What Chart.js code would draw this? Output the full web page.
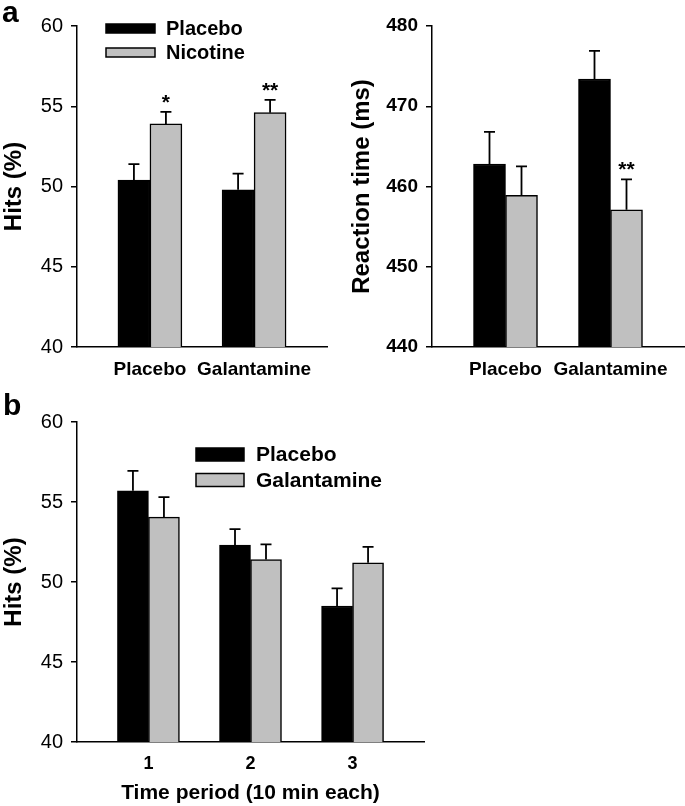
<!DOCTYPE html>
<html>
<head>
<meta charset="utf-8">
<script src="https://cdn.jsdelivr.net/npm/chart.js@4.4.1/dist/chart.umd.min.js"></script>
<style>
  html, body { margin: 0; padding: 0; background: #fff; }
  #wrap { position: relative; width: 685px; height: 806px; overflow: hidden; background: #fff; }
  canvas { position: absolute; }
</style>
</head>
<body>
<div id="wrap">
  <canvas id="cA1" width="340" height="385" style="left:0;top:0;width:340px;height:385px"></canvas>
  <canvas id="cA2" width="345" height="385" style="left:340px;top:0;width:345px;height:385px"></canvas>
  <canvas id="cB" width="685" height="421" style="left:0;top:385px;width:685px;height:421px"></canvas>
</div>
<script>
// ---------- DATA ----------
// Panel a (left): Hits (%)
const hitsCategories = ['Placebo', 'Galantamine'];
const hitsSeries = ['Placebo', 'Nicotine'];
const hitsPlacebo = [50.4, 49.8];
const hitsPlaceboErr = [1.0, 1.0];
const hitsNicotine = [53.9, 54.6];
const hitsNicotineErr = [0.75, 0.8];
const hitsNicotineSig = ['*', '**'];
const hitsTicks = [40, 45, 50, 55, 60];

// Panel a (right): Reaction time (ms)
const rtCategories = ['Placebo', 'Galantamine'];
const rtPlacebo = [462.8, 473.4];
const rtPlaceboErr = [4.0, 3.5];
const rtNicotine = [458.9, 457.1];
const rtNicotineErr = [3.6, 3.8];
const rtNicotineSig = ['', '**'];
const rtTicks = [440, 450, 460, 470, 480];

// Panel b: Hits (%) by time period
const periodCategories = ['1', '2', '3'];
const periodSeries = ['Placebo', 'Galantamine'];
const periodPlacebo = [55.7, 52.3, 48.5];
const periodPlaceboErr = [1.25, 1.0, 1.1];
const periodGalantamine = [54.05, 51.4, 51.2];
const periodGalantamineErr = [1.25, 0.95, 1.0];
const periodTicks = [40, 45, 50, 55, 60];

// ---------- STYLE ----------
const FONT = "'Liberation Sans', Arial, Helvetica, sans-serif";
const BLACK = '#000000';
const GREY = '#c0c0c0';
Chart.defaults.font.family = FONT;
Chart.defaults.color = '#000';

const errorBarPlugin = {
  id: 'errorBars',
  afterDatasetsDraw(chart, args, opts) {
    const ctx = chart.ctx;
    const yScale = chart.scales.y;
    chart.data.datasets.forEach((ds, di) => {
      if (!ds.errors) return;
      const meta = chart.getDatasetMeta(di);
      meta.data.forEach((bar, i) => {
        const v = ds.data[i].y;
        const top = yScale.getPixelForValue(v + ds.errors[i]);
        ctx.save();
        ctx.strokeStyle = '#000';
        ctx.lineWidth = 1.8;
        ctx.beginPath();
        ctx.moveTo(bar.x, bar.y);
        ctx.lineTo(bar.x, top);
        ctx.moveTo(bar.x - 5.5, top);
        ctx.lineTo(bar.x + 5.5, top);
        ctx.stroke();
        if (ds.sig && ds.sig[i]) {
          ctx.fillStyle = '#000';
          ctx.font = 'bold 21px ' + FONT;
          ctx.textAlign = 'center';
          ctx.textBaseline = 'alphabetic';
          ctx.fillText(ds.sig[i], bar.x, top - 3);
        }
        ctx.restore();
      });
    });
  }
};

const boxLegendPlugin = {
  id: 'boxLegend',
  afterDraw(chart, args, opts) {
    if (!opts || !opts.show) return;
    const ctx = chart.ctx;
    ctx.save();
    chart.data.datasets.forEach((ds, i) => {
      const yc = opts.y + i * opts.rowGap;
      ctx.fillStyle = ds.backgroundColor;
      ctx.fillRect(opts.x, yc - opts.boxH / 2, opts.boxW, opts.boxH);
      ctx.strokeStyle = '#000';
      ctx.lineWidth = 1.5;
      ctx.strokeRect(opts.x, yc - opts.boxH / 2, opts.boxW, opts.boxH);
      ctx.fillStyle = '#000';
      ctx.font = opts.font;
      ctx.textAlign = 'left';
      ctx.textBaseline = 'middle';
      ctx.fillText(ds.label, opts.x + opts.boxW + opts.gap, yc + 1);
    });
    ctx.restore();
  }
};

const panelLabelPlugin = {
  id: 'panelLabel',
  afterDraw(chart, args, opts) {
    if (!opts || !opts.text) return;
    const ctx = chart.ctx;
    ctx.save();
    ctx.fillStyle = '#000';
    ctx.font = 'bold 30px ' + FONT;
    ctx.textAlign = 'left';
    ctx.textBaseline = 'alphabetic';
    ctx.fillText(opts.text, opts.x, opts.y);
    ctx.restore();
  }
};

function toPoints(values) { return values.map((v, i) => ({ x: i, y: v })); }

function makeChart(id, p) {
  const datasets = p.series.map((name, k) => ({
    label: name,
    data: toPoints(p.values[k]),
    errors: p.errors[k],
    sig: p.sig[k],
    backgroundColor: k === 0 ? BLACK : GREY,
    borderColor: '#000',
    borderWidth: 1.5,
    barThickness: p.barThickness
  }));
  return new Chart(document.getElementById(id), {
    type: 'bar',
    data: { datasets },
    plugins: [errorBarPlugin, boxLegendPlugin, panelLabelPlugin],
    options: {
      responsive: false,
      animation: false,
      devicePixelRatio: 1,
      layout: { padding: p.padding },
      plugins: {
        legend: { display: false },
        tooltip: { enabled: false },
        boxLegend: p.legend,
        panelLabel: p.panel
      },
      scales: {
        x: {
          type: 'linear',
          min: -0.7,
          max: p.categories.length - 0.3,
          offset: false,
          afterBuildTicks: s => { s.ticks = p.categories.map((c, i) => ({ value: i })); },
          afterFit: s => { s.height = p.xHeight; },
          ticks: {
            autoSkip: false, maxRotation: 0, minRotation: 0,
            callback: (v, i) => p.categories[i],
            font: { size: p.xTickSize, weight: 'bold' },
            color: '#000', padding: 11
          },
          grid: { display: false, drawTicks: false },
          border: { display: true, color: '#000', width: 1.5 },
          title: p.xTitle ? {
            display: true, text: p.xTitle, color: '#000',
            font: { size: 21, weight: 'bold' }, padding: { top: 0, bottom: 0 }
          } : { display: false }
        },
        y: {
          min: p.ticks[0],
          max: p.ticks[p.ticks.length - 1],
          afterBuildTicks: s => { s.ticks = p.ticks.map(v => ({ value: v })); },
          afterFit: s => { s.width = p.yWidth; },
          ticks: {
            font: { size: p.yTickSize, weight: p.yTickWeight },
            color: '#000', padding: p.yTickPad
          },
          grid: { display: true, drawOnChartArea: false, drawTicks: true, tickLength: 6, color: '#000', lineWidth: 1.5 },
          border: { display: true, color: '#000', width: 1.5 },
          title: {
            display: true, text: p.yTitle, color: '#000',
            font: { size: 24, weight: 'bold' }, padding: { top: p.yTitlePad, bottom: 0 }
          }
        }
      }
    }
  });
}

makeChart('cA1', {
  categories: hitsCategories, series: hitsSeries,
  values: [hitsPlacebo, hitsNicotine], errors: [hitsPlaceboErr, hitsNicotineErr],
  sig: [null, hitsNicotineSig], ticks: hitsTicks,
  yTitle: 'Hits (%)', yTitlePad: 0, yTickWeight: 'normal', yTickSize: 20, yTickPad: 8,
  padding: { left: 0, top: 26, right: 13, bottom: 0 }, yWidth: 77, xHeight: 38,
  xTickSize: 19, barThickness: 32,
  legend: { show: true, x: 106, y: 28.5, boxW: 49, boxH: 9, rowGap: 24, gap: 11, font: 'bold 20px ' + FONT },
  panel: { text: 'a', x: 2, y: 22 }
});

makeChart('cA2', {
  categories: rtCategories, series: hitsSeries,
  values: [rtPlacebo, rtNicotine], errors: [rtPlaceboErr, rtNicotineErr],
  sig: [null, rtNicotineSig], ticks: rtTicks,
  yTitle: 'Reaction time (ms)', yTitlePad: 8, yTickWeight: 'bold', yTickSize: 19, yTickPad: 8,
  padding: { left: 0, top: 26, right: 1, bottom: 0 }, yWidth: 92, xHeight: 38,
  xTickSize: 19, barThickness: 32,
  legend: { show: false },
  panel: {}
});

makeChart('cB', {
  categories: periodCategories, series: periodSeries,
  values: [periodPlacebo, periodGalantamine], errors: [periodPlaceboErr, periodGalantamineErr],
  sig: [null, null], ticks: periodTicks,
  yTitle: 'Hits (%)', yTitlePad: 0, yTickWeight: 'normal', yTickSize: 20, yTickPad: 8,
  padding: { left: 0, top: 37, right: 261, bottom: 0 }, yWidth: 77, xHeight: 64,
  xTickSize: 18, barThickness: 31, xTitle: 'Time period (10 min each)',
  legend: { show: true, x: 196, y: 69.5, boxW: 48, boxH: 13, rowGap: 25.5, gap: 12, font: 'bold 21px ' + FONT },
  panel: { text: 'b', x: 3, y: 30 }
});
</script>
</body>
</html>
